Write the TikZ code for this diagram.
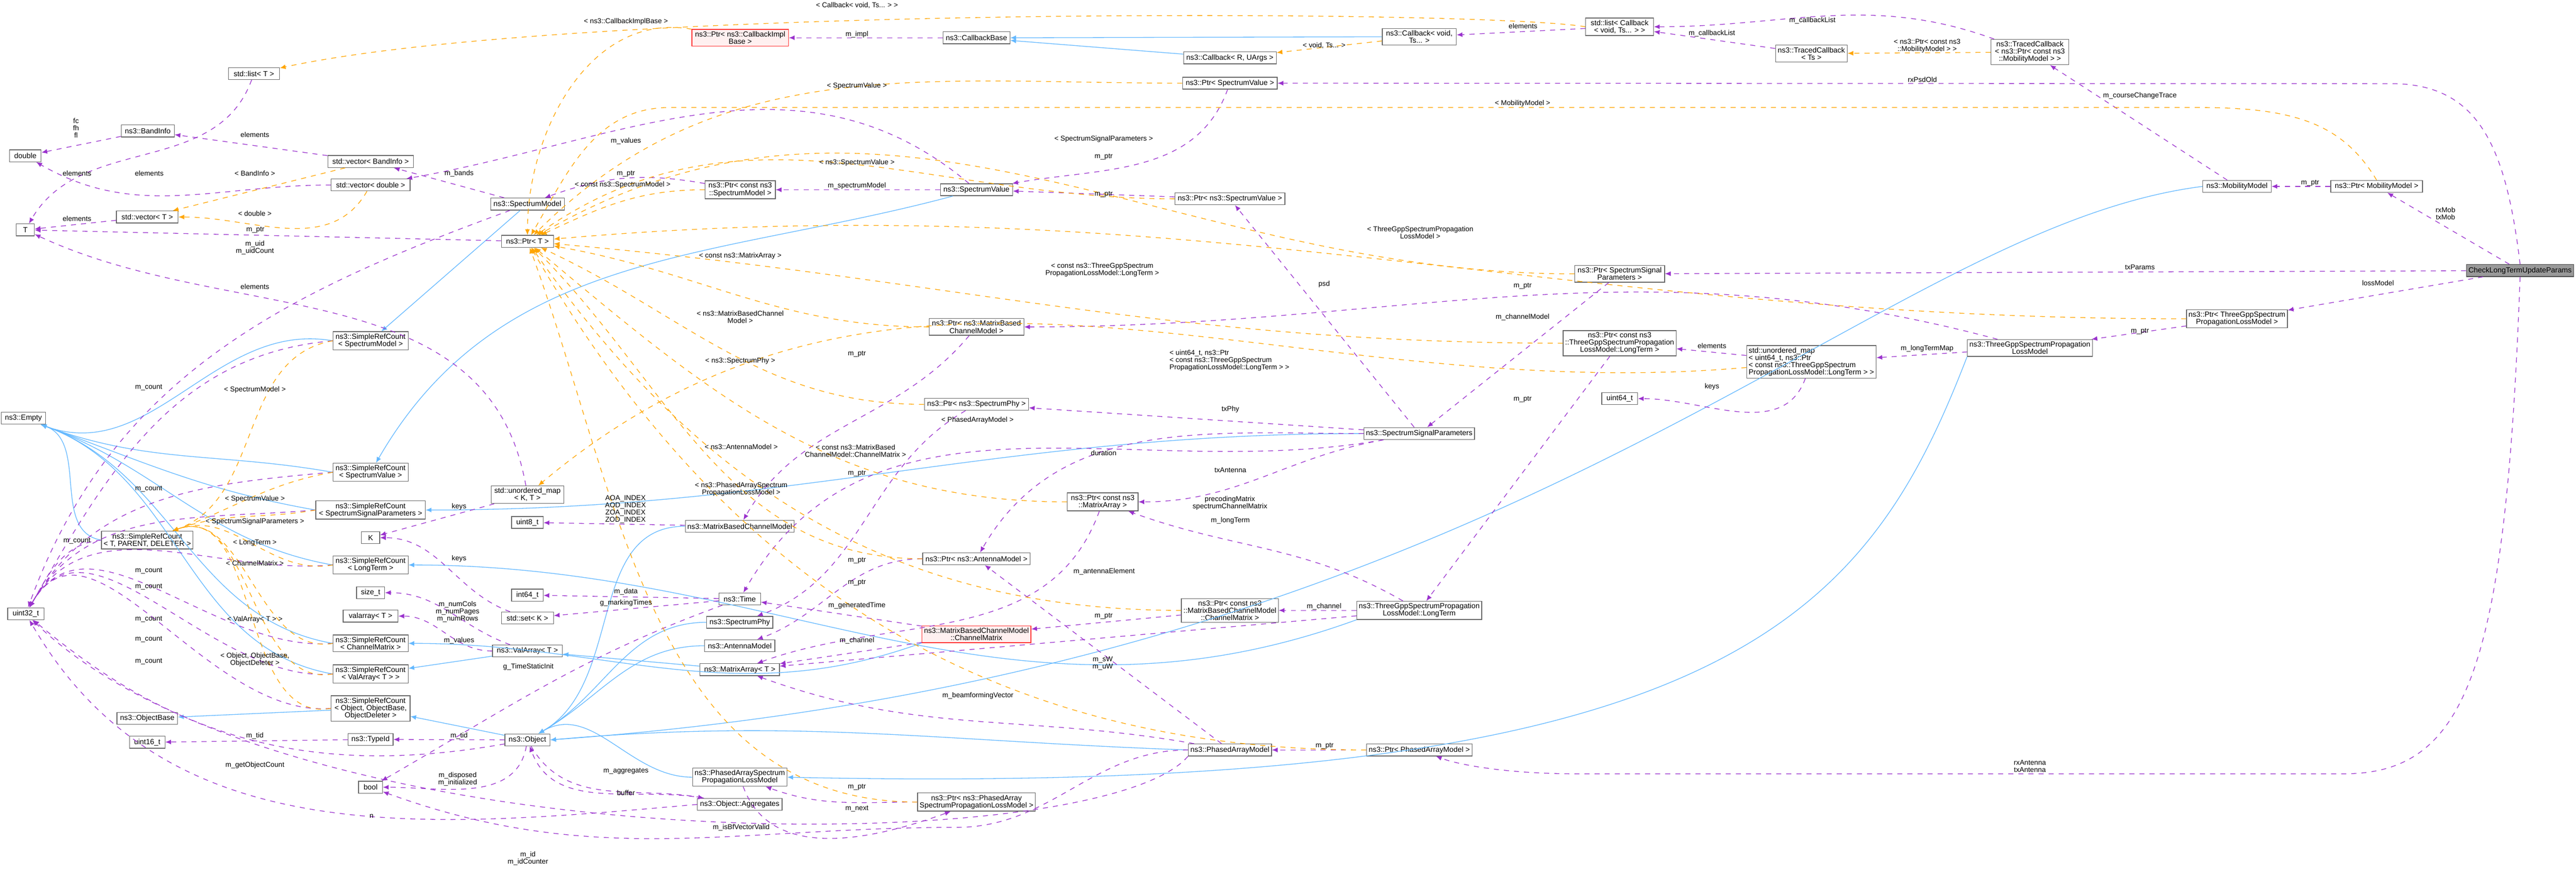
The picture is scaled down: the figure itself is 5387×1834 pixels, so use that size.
\documentclass[tikz,border=0pt]{standalone}
\usepackage{fontspec}
\setmainfont{Liberation Sans}
\usetikzlibrary{arrows.meta}
\definecolor{memb}{HTML}{9A32CD}
\definecolor{tmpl}{HTML}{FFA500}
\definecolor{inh}{HTML}{63B8FF}
\tikzset{
  cls/.style={draw=black!60, fill=white, align=center, inner sep=1.2pt, minimum height=0.25cm, font=\fontsize{4.4}{4.3}\selectfont},
  w/.style={minimum width=#1*0.01cm},
  hl/.style={cls, draw=red!80, fill=red!6},
  focus/.style={cls, draw=black!70, fill=black!40},
  lbl/.style={align=center, inner sep=0pt, font=\fontsize{4.2}{4.3}\selectfont},
  member/.style={memb, dashed, -{Latex[length=1.2mm,width=1mm]}},
  tmplt/.style={tmpl, dashed, -{Latex[length=1.2mm,width=1mm]}},
  inherit/.style={inh, -{Latex[length=1.2mm,width=1mm]}},
}
\begin{document}
\begin{tikzpicture}[x=0.01cm,y=-0.01cm]
\useasboundingbox (0,0) rectangle (5387,1834);
% classes, left column
\node[cls,w=107] (lst) at (531,154) {std::list< T >};
\node[cls,w=111] (band) at (309,274) {ns3::BandInfo};
\node[cls,w=66] (dbl) at (53,326) {double};
\node[cls,w=179] (vband) at (775,338) {std::vector< BandInfo >};
\node[cls,w=165] (vdbl) at (775,387) {std::vector< double >};
\node[cls,w=129] (vT) at (308,454) {std::vector< T >};
\node[cls,w=38] (T) at (53,481) {T};
\node[cls,w=154] (smod) at (1103,427) {ns3::SpectrumModel};
\node[cls,w=109] (ptrT) at (1103,505) {ns3::Ptr< T >};
\node[cls,w=157] (srcSM) at (775,713) {ns3::SimpleRefCount\\< SpectrumModel >};
\node[cls,w=93] (empty) at (49,875) {ns3::Empty};
\node[cls,w=157] (srcSV) at (775,988) {ns3::SimpleRefCount\\< SpectrumValue >};
\node[cls,w=152] (umapKT) at (1103,1035) {std::unordered\_map\\< K, T >};
\node[cls,w=229] (srcSSP) at (775,1067) {ns3::SimpleRefCount\\< SpectrumSignalParameters >};
\node[cls,w=185] (srcTPD) at (308,1130) {ns3::SimpleRefCount\\< T, PARENT, DELETER >};
\node[cls,w=38] (K) at (775,1125) {K};
\node[cls,w=66] (u8) at (1103,1093) {uint8\_t};
\node[cls,w=157] (srcLT) at (775,1182) {ns3::SimpleRefCount\\< LongTerm >};
\node[cls,w=59] (szt) at (775,1240) {size\_t};
\node[cls,w=66] (i64) at (1103,1245) {int64\_t};
\node[cls,w=76] (u32) at (54,1284) {uint32\_t};
\node[cls,w=115] (varr) at (775,1289) {valarray< T >};
\node[cls,w=109] (setK) at (1103,1293) {std::set< K >};
\node[cls,w=157] (srcCM) at (775,1346) {ns3::SimpleRefCount\\< ChannelMatrix >};
\node[cls,w=146] (valA) at (1103,1362) {ns3::ValArray< T >};
\node[cls,w=157] (srcVA) at (775,1410) {ns3::SimpleRefCount\\< ValArray< T > >};
\node[cls,w=165] (srcOB) at (775,1482) {ns3::SimpleRefCount\\< Object, ObjectBase,\\ObjectDeleter >};
\node[cls,w=127] (obase) at (308,1503) {ns3::ObjectBase};
\node[cls,w=74] (u16) at (308,1553) {uint16\_t};
\node[cls,w=94] (tid) at (775,1547) {ns3::TypeId};
\node[cls,w=94] (obj) at (1103,1548) {ns3::Object};
\node[cls,w=50] (bool) at (775,1647) {bool};
% middle columns
\node[hl,w=202] (pcbi) at (1548,79) {ns3::Ptr< ns3::CallbackImpl\\Base >};
\node[cls,w=140] (cbb) at (2042,79) {ns3::CallbackBase};
\node[cls,w=194] (cbRU) at (2572,121) {ns3::Callback< R, UArgs >};
\node[cls,w=198] (pSV) at (2572,174) {ns3::Ptr< SpectrumValue >};
\node[cls,w=147] (pcSM) at (1548,397) {ns3::Ptr< const ns3\\::SpectrumModel >};
\node[cls,w=151] (sval) at (2042,397) {ns3::SpectrumValue};
\node[cls,w=230] (pnSV) at (2572,416) {ns3::Ptr< ns3::SpectrumValue >};
\node[cls,w=198] (pMBCM) at (2042,684) {ns3::Ptr< ns3::MatrixBased\\ChannelModel >};
\node[cls,w=218] (pSPhy) at (2042,846) {ns3::Ptr< ns3::SpectrumPhy >};
\node[cls,w=227] (mbcm) at (1547,1101) {ns3::MatrixBasedChannelModel};
\node[cls,w=225] (pAnt) at (2042,1169) {ns3::Ptr< ns3::AntennaModel >};
\node[cls,w=148] (pcMA) at (2306,1050) {ns3::Ptr< const ns3\\::MatrixArray >};
\node[cls,w=87] (time) at (1547,1253) {ns3::Time};
\node[cls,w=138] (sphy) at (1547,1302) {ns3::SpectrumPhy};
\node[cls,w=147] (ant) at (1547,1351) {ns3::AntennaModel};
\node[cls,w=166] (marr) at (1547,1401) {ns3::MatrixArray< T >};
\node[hl,w=226] (chm) at (2042,1327) {ns3::MatrixBasedChannelModel\\::ChannelMatrix};
\node[cls,w=202] (pcCM) at (2572,1277) {ns3::Ptr< const ns3\\::MatrixBasedChannelModel\\::ChannelMatrix >};
\node[cls,w=174] (pam) at (2572,1569) {ns3::PhasedArrayModel};
\node[cls,w=197] (paspl) at (1547,1626) {ns3::PhasedArraySpectrum\\PropagationLossModel};
\node[cls,w=177] (aggr) at (1547,1683) {ns3::Object::Aggregates};
\node[cls,w=245] (ppaspl) at (2042,1678) {ns3::Ptr< ns3::PhasedArray\\SpectrumPropagationLossModel >};
% right columns
\node[cls,w=155] (cbvt) at (2968,77) {ns3::Callback< void,\\Ts... >};
\node[cls,w=142] (lcb) at (3387,56) {std::list< Callback\\< void, Ts... > >};
\node[cls,w=150] (tcts) at (3788,112) {ns3::TracedCallback\\< Ts >};
\node[cls,w=188] (pSSP) at (3387,573) {ns3::Ptr< SpectrumSignal\\Parameters >};
\node[cls,w=232] (pcLT) at (3387,718) {ns3::Ptr< const ns3\\::ThreeGppSpectrumPropagation\\LossModel::LongTerm >};
\node[cls,w=270,align=left] (umapLT) at (3788,757) {std::unordered\_map\\< uint64\_t, ns3::Ptr\\< const ns3::ThreeGppSpectrum\\PropagationLossModel::LongTerm > >};
\node[cls,w=75] (u64) at (3387,834) {uint64\_t};
\node[cls,w=229] (ssp) at (2968,907) {ns3::SpectrumSignalParameters};
\node[cls,w=255] (lterm) at (2968,1277) {ns3::ThreeGppSpectrumPropagation\\LossModel::LongTerm};
\node[cls,w=221] (pPAM) at (2968,1569) {ns3::Ptr< PhasedArrayModel >};
\node[cls,w=163] (tcmob) at (4245,109) {ns3::TracedCallback\\< ns3::Ptr< const ns3\\::MobilityModel > >};
\node[cls,w=143] (mob) at (4678,390) {ns3::MobilityModel};
\node[cls,w=192] (pMob) at (4970,390) {ns3::Ptr< MobilityModel >};
\node[focus,w=219] (check) at (5270,566) {CheckLongTermUpdateParams};
\node[cls,w=210] (pTG) at (4678,667) {ns3::Ptr< ThreeGppSpectrum\\PropagationLossModel >};
\node[cls,w=257] (tg) at (4245,728) {ns3::ThreeGppSpectrumPropagation\\LossModel};
% inheritance
\foreach \s in {srcSM,srcSV,srcSSP,srcTPD,srcLT,srcCM,srcVA}
  \draw[inherit] (\s.west) to[out=170,in=-20] (empty);
\draw[inherit] (smod) -- (srcSM);
\draw[inherit] (sval) to[out=195,in=60] (srcSV);
\draw[inherit] (ssp.west) to[out=180,in=0] (srcSSP.east);
\draw[inherit] (lterm.south west) to[out=200,in=0] (srcLT.east);
\draw[inherit] (chm.south west) to[out=200,in=0] (srcCM.east);
\draw[inherit] (valA) -- (srcVA);
\draw[inherit] (marr) -- (valA);
\draw[inherit] (obj) -- (srcOB);
\draw[inherit] (srcOB) -- (obase);
\draw[inherit] (cbRU) -- (cbb);
\draw[inherit] (cbvt.west) -- (cbb.east);
\foreach \s in {mbcm,sphy,ant,paspl}
  \draw[inherit] (\s.west) to[out=180,in=30] (obj);
\draw[inherit] (pam.west) to[out=178,in=5] (obj.east);
\draw[inherit] (mob.west) .. controls (3900,480) and (3200,1400) .. (obj.east);
\draw[inherit] (tg.south west) .. controls (3900,1300) and (3600,1669) .. (paspl.east);
% members
\draw[member] (lst) to[out=-110,in=60] (T);
\draw[member] (band) -- (dbl);
\draw[member] (vband) -- (band);
\draw[member] (vdbl) to[out=180,in=-30] (dbl);
\draw[member] (vT) -- (T);
\draw[member] (ptrT) -- (T);
\draw[member] (smod) to[out=200,in=70] (u32);
\draw[member] (smod) -- (vband);
\draw[member] (sval) to[out=140,in=10] (vdbl);
\draw[member] (pcSM) to[out=170,in=20] (smod);
\draw[member] (umapKT) to[out=100,in=-25] (T);
\foreach \s in {srcSM,srcSV,srcTPD,srcSSP,srcLT,srcCM,srcVA,srcOB}
  \draw[member] (\s.west) to[out=185,in=60] (u32);
\draw[member] (umapKT) -- (K);
\draw[member] (setK) to[out=160,in=0] (K);
\draw[member] (valA) to[out=160,in=0] (szt);
\draw[member] (valA) to[out=180,in=0] (varr);
\draw[member] (tid) -- (u16);
\draw[member] (obj) -- (tid);
\draw[member] (obj) to[out=190,in=-40] (u32);
\draw[member] (obj) to[out=-100,in=0] (bool);
\draw[member] (obj) to[out=-60,in=170] (aggr);
\draw[member] (aggr) to[out=170,in=-70] (obj);
\draw[member] (aggr.west) to[out=185,in=-60] (u32);
\draw[member] (mbcm) -- (u8);
\draw[member] (time) -- (i64);
\draw[member] (time) -- (setK);
\draw[member] (time) to[out=200,in=30] (bool);
\draw[member] (pAnt) to[out=180,in=20] (ant);
\draw[member] (pMBCM) to[out=-130,in=60] (mbcm);
\draw[member] (pSPhy) to[out=-150,in=20] (sphy);
\draw[member] (pcMA) to[out=-110,in=20] (marr);
\draw[member] (chm) -- (time);
\draw[member] (chm) -- (marr);
\draw[member] (pcCM) -- (chm);
\draw[member] (pam) -- (pAnt);
\draw[member] (pam) to[out=170,in=-20] (marr);
\draw[member] (pam.west) to[out=180,in=0] (2000,1731) to[out=180,in=-20] (bool);
\draw[member] (pam.south west) .. controls (2300,1800) and (600,1810) .. (u32);
\draw[member] (lterm) -- (marr);
\draw[member] (lterm) -- (pcCM);
\draw[member] (lterm) to[out=150,in=-20] (pcMA);
\draw[member] (ssp) to[out=190,in=0] (pcMA);
\draw[member] (ppaspl) to[out=180,in=-20] (paspl);
\draw[member] (paspl) to[out=-70,in=200] (ppaspl);
\draw[member] (pPAM) -- (pam);
\draw[member] (ssp) -- (pSPhy);
\draw[member] (ssp) to[out=190,in=60] (time);
\draw[member] (ssp) to[out=180,in=60] (pAnt);
\draw[member] (ssp) -- (pnSV);
\draw[member] (pnSV) -- (sval);
\draw[member] (pSV) to[out=-110,in=10] (sval);
\draw[member] (sval) -- (pcSM);
\draw[member] (pSSP) -- (ssp);
\draw[member] (pcLT) -- (lterm);
\draw[member] (umapLT) -- (pcLT);
\draw[member] (umapLT) to[out=-110,in=0] (u64);
\draw[member] (tg) -- (umapLT);
\draw[member] (tg) to[out=165,in=0] (pMBCM);
\draw[member] (pTG) -- (tg);
\draw[member] (check) -- (pTG);
\draw[member] (check) -- (pSSP);
\draw[member] (check) -- (pMob);
\draw[member] (check.north) .. controls (5240,300) and (5180,175) .. (5000,175) -- (pSV);
\draw[member] (check.south) .. controls (5240,1400) and (5160,1619) .. (4900,1619) -- (3300,1619) .. controls (3150,1619) and (3050,1600) .. (pPAM);
\draw[member] (pMob) -- (mob);
\draw[member] (mob) -- (tcmob);
\draw[member] (tcmob) to[out=160,in=0] (lcb);
\draw[member] (tcts) -- (lcb);
\draw[member] (lcb) -- (cbvt);
\draw[member] (cbb) -- (pcbi);
% templates
\draw[tmplt] (vband) -- (vT);
\draw[tmplt] (vdbl) to[out=-120,in=0] (vT);
\draw[tmplt] (lcb.west) .. controls (3100,20) and (1200,10) .. (lst);
\draw[tmplt] (pcbi) to[out=170,in=90] (ptrT);
\foreach \s/\a in {pSV/45,pnSV/35,pSSP/30,pcSM/25,pMBCM/-10,pSPhy/-25,pAnt/-45,pcMA/-40,pcCM/-55,ppaspl/-70,pPAM/-60,pcLT/-5,pTG/5}
  \draw[tmplt] (\s) to[out=180,in=\a] (ptrT);
\draw[tmplt] (pMob.north) .. controls (4900,260) and (4800,225) .. (4600,225) -- (1400,225) to[out=180,in=60] (ptrT);
\draw[tmplt] (umapLT) to[out=185,in=40] (umapKT);
\draw[tmplt] (cbvt) -- (cbRU);
\draw[tmplt] (tcmob) -- (tcts);
\foreach \s in {srcSM,srcSV,srcSSP,srcLT,srcCM,srcVA,srcOB}
  \draw[tmplt] (\s.west) to[out=190,in=20] (srcTPD);
% labels
\node[lbl] at (159,268) {fc\\fh\\fl};
\node[lbl] at (533,282) {elements};
\node[lbl] at (161,363) {elements};
\node[lbl] at (312,363) {elements};
\node[lbl] at (533,363) {< BandInfo >};
\node[lbl] at (533,447) {< double >};
\node[lbl] at (161,458) {elements};
\node[lbl] at (534,481) {m\_ptr};
\node[lbl] at (533,518) {m\_uid\\m\_uidCount};
\node[lbl] at (960,363) {m\_bands};
\node[lbl] at (1309,295) {m\_values};
\node[lbl] at (1309,364) {m\_ptr};
\node[lbl] at (1302,387) {< const ns3::SpectrumModel >};
\node[lbl] at (533,600) {elements};
\node[lbl] at (311,811) {m\_count};
\node[lbl] at (533,816) {< SpectrumModel >};
\node[lbl] at (311,1023) {m\_count};
\node[lbl] at (533,1044) {< SpectrumValue >};
\node[lbl] at (533,1091) {< SpectrumSignalParameters >};
\node[lbl] at (161,1132) {m\_count};
\node[lbl] at (533,1136) {< LongTerm >};
\node[lbl] at (533,1178) {< ChannelMatrix >};
\node[lbl] at (311,1194) {m\_count};
\node[lbl] at (311,1228) {m\_count};
\node[lbl] at (533,1296) {< ValArray< T > >};
\node[lbl] at (311,1296) {m\_count};
\node[lbl] at (311,1337) {m\_count};
\node[lbl] at (533,1380) {< Object, ObjectBase,\\ObjectDeleter >};
\node[lbl] at (311,1384) {m\_count};
\node[lbl] at (960,1060) {keys};
\node[lbl] at (960,1169) {keys};
\node[lbl] at (1308,1066) {AOA\_INDEX\\AOD\_INDEX\\ZOA\_INDEX\\ZOD\_INDEX};
\node[lbl] at (957,1280) {m\_numCols\\m\_numPages\\m\_numRows};
\node[lbl] at (960,1340) {m\_values};
\node[lbl] at (1309,1238) {m\_data};
\node[lbl] at (1309,1262) {g\_markingTimes};
\node[lbl] at (1105,1395) {g\_TimeStaticInit};
\node[lbl] at (533,1540) {m\_tid};
\node[lbl] at (960,1539) {m\_tid};
\node[lbl] at (533,1601) {m\_getObjectCount};
\node[lbl] at (957,1630) {m\_disposed\\m\_initialized};
\node[lbl] at (1309,1613) {m\_aggregates};
\node[lbl] at (1309,1659) {buffer};
\node[lbl] at (777,1708) {n};
\node[lbl] at (1104,1796) {m\_id\\m\_idCounter};
\node[lbl] at (1792,11) {< Callback< void, Ts... > >};
\node[lbl] at (1309,45) {< ns3::CallbackImplBase >};
\node[lbl] at (1792,72) {m\_impl};
\node[lbl] at (1792,180) {< SpectrumValue >};
\node[lbl] at (2308,291) {< SpectrumSignalParameters >};
\node[lbl] at (2308,328) {m\_ptr};
\node[lbl] at (1792,340) {< ns3::SpectrumValue >};
\node[lbl] at (1792,389) {m\_spectrumModel};
\node[lbl] at (2308,407) {m\_ptr};
\node[lbl] at (1548,535) {< const ns3::MatrixArray >};
\node[lbl] at (2305,564) {< const ns3::ThreeGppSpectrum\\PropagationLossModel::LongTerm >};
\node[lbl] at (1548,663) {< ns3::MatrixBasedChannel\\Model >};
\node[lbl] at (1792,741) {m\_ptr};
\node[lbl] at (1548,755) {< ns3::SpectrumPhy >};
\node[lbl,align=left] at (2571,754) {< uint64\_t, ns3::Ptr\\< const ns3::ThreeGppSpectrum\\PropagationLossModel::LongTerm > >};
\node[lbl] at (2573,856) {txPhy};
\node[lbl] at (2044,879) {< PhasedArrayModel >};
\node[lbl] at (1550,935) {< ns3::AntennaModel >};
\node[lbl] at (1789,943) {< const ns3::MatrixBased\\ChannelModel::ChannelMatrix >};
\node[lbl] at (1792,991) {m\_ptr};
\node[lbl] at (1550,1024) {< ns3::PhasedArraySpectrum\\PropagationLossModel >};
\node[lbl] at (2308,948) {duration};
\node[lbl] at (2573,984) {txAntenna};
\node[lbl] at (2572,1053) {precodingMatrix\\spectrumChannelMatrix};
\node[lbl] at (2573,1089) {m\_longTerm};
\node[lbl] at (1792,1173) {m\_ptr};
\node[lbl] at (2309,1196) {m\_antennaElement};
\node[lbl] at (1792,1219) {m\_ptr};
\node[lbl] at (1792,1267) {m\_generatedTime};
\node[lbl] at (2308,1289) {m\_ptr};
\node[lbl] at (1792,1340) {m\_channel};
\node[lbl] at (2306,1388) {m\_sW\\m\_uW};
\node[lbl] at (2045,1455) {m\_beamformingVector};
\node[lbl] at (1792,1647) {m\_ptr};
\node[lbl] at (1792,1692) {m\_next};
\node[lbl] at (1550,1731) {m\_isBfVectorValid};
\node[lbl] at (3185,55) {elements};
\node[lbl] at (2769,95) {< void, Ts... >};
\node[lbl] at (3790,43) {m\_callbackList};
\node[lbl] at (3580,70) {m\_callbackList};
\node[lbl] at (4030,96) {< ns3::Ptr< const ns3\\::MobilityModel > >};
\node[lbl] at (4020,167) {rxPsdOld};
\node[lbl] at (3184,217) {< MobilityModel >};
\node[lbl] at (2970,487) {< ThreeGppSpectrumPropagation\\LossModel >};
\node[lbl] at (2769,595) {psd};
\node[lbl] at (3184,599) {m\_ptr};
\node[lbl] at (3184,664) {m\_channelModel};
\node[lbl] at (3580,724) {elements};
\node[lbl] at (4030,729) {m\_longTermMap};
\node[lbl] at (3580,809) {keys};
\node[lbl] at (3184,836) {m\_ptr};
\node[lbl] at (2769,1269) {m\_channel};
\node[lbl] at (2770,1561) {m\_ptr};
\node[lbl] at (4475,200) {m\_courseChangeTrace};
\node[lbl] at (4831,383) {m\_ptr};
\node[lbl] at (5114,447) {rxMob\\txMob};
\node[lbl] at (4475,559) {txParams};
\node[lbl] at (4973,592) {lossModel};
\node[lbl] at (4475,693) {m\_ptr};
\node[lbl] at (4245,1603) {rxAntenna\\txAntenna};
\end{tikzpicture}
\end{document}
